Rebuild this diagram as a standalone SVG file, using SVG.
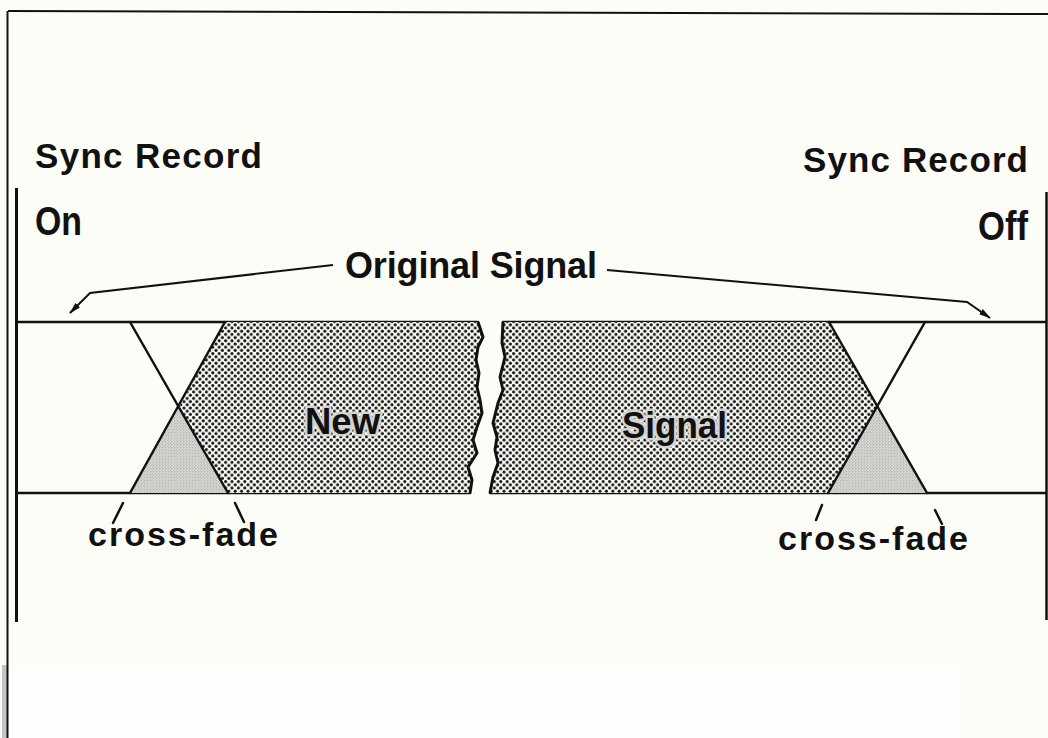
<svg xmlns="http://www.w3.org/2000/svg" width="1048" height="738" viewBox="0 0 1048 738">
<style>
.t{font-family:"Liberation Sans",Arial,Helvetica,sans-serif;font-weight:bold;fill:#111;}
.ln{stroke:#111;stroke-width:2.5;fill:none;stroke-linecap:round;stroke-linejoin:round;}
.thin{stroke:#111;stroke-width:2;fill:none;}
.halo{stroke:#d4d4d0;stroke-width:5;paint-order:stroke;stroke-linejoin:round;}
</style>
<defs>
<pattern id="dots" width="6.4" height="6.4" patternUnits="userSpaceOnUse">
<rect width="6.4" height="6.4" fill="#fdfdf8"/>
<circle cx="1.6" cy="1.6" r="1.55" fill="#111"/>
<circle cx="4.8" cy="4.8" r="1.55" fill="#111"/>
</pattern>
<pattern id="fine" width="3" height="3" patternUnits="userSpaceOnUse">
<rect width="3" height="3" fill="#d6d6d2"/>
<circle cx="0.8" cy="0.8" r="0.55" fill="#8a8a8a"/>
<circle cx="2.3" cy="2.2" r="0.45" fill="#a0a0a0"/>
</pattern>
<marker id="arr" viewBox="0 0 12 8" refX="11" refY="4" markerWidth="12" markerHeight="8" markerUnits="userSpaceOnUse" orient="auto">
<path d="M0,0.8 L12,4 L0,7.2 Z" fill="#111"/>
</marker>
</defs>

<rect width="1048" height="738" fill="#fdfdf7"/>
<rect x="9" y="665" width="950" height="73" fill="#fefefd"/>
<rect x="2" y="665" width="5" height="73" fill="#c4c4c4"/>

<g id="frame">
<path class="thin" d="M8,11 L1048,14"/>
<path class="thin" d="M7.5,11 L7.5,738"/>
<path d="M16.5,188 L16.5,622" stroke="#111" stroke-width="3" fill="none"/>
<path d="M1046.5,192 L1046.5,620" stroke="#111" stroke-width="2.5" fill="none"/>
</g>

<g id="band">
<path class="ln" d="M18,322 L478,322 M503,322 L1046,322"/>
<path class="ln" d="M18,493 L470,493 M490,493 L1046,493"/>
</g>

<g id="new-signal-left">
<polygon points="225,322 478,322 483,337 478,347 476,360 479,373 477,387 480,400 482,413 477,427 473,440 477,453 468,467 472,480 470,493 228,493 179,408" fill="url(#dots)"/>
<path d="M478,322 L483,337 L478,347 L476,360 L479,373 L477,387 L480,400 L482,413 L477,427 L473,440 L477,453 L468,467 L472,480 L470,493" stroke="#111" stroke-width="3" fill="none" stroke-linejoin="round"/>
<text class="t halo" x="305" y="434" font-size="37" textLength="75" lengthAdjust="spacingAndGlyphs">New</text>
</g>

<g id="new-signal-right">
<polygon points="503,322 829,322 877,408 828,493 490,493 493,477 498,463 495,450 497,437 493,423 498,403 503,390 500,377 505,357 502,343" fill="url(#dots)"/>
<path d="M503,322 L502,343 L505,357 L500,377 L503,390 L498,403 L493,423 L497,437 L495,450 L498,463 L493,477 L490,493" stroke="#111" stroke-width="3" fill="none" stroke-linejoin="round"/>
<text class="t halo" x="622" y="438" font-size="37" textLength="105" lengthAdjust="spacingAndGlyphs">Signal</text>
</g>

<g id="crossfade-left">
<polygon points="179,408 130,493 228,493" fill="url(#fine)"/>
<path class="ln" d="M130,322 L228,493 M225,322 L130,493"/>
</g>

<g id="crossfade-right">
<polygon points="877,408 828,493 927,493" fill="url(#fine)"/>
<path class="ln" d="M829,322 L927,493 M925,322 L828,493"/>
</g>

<g id="labels">
<text class="t" x="35" y="168" font-size="35" textLength="227" lengthAdjust="spacing">Sync Record</text>
<text class="t" x="35" y="235" font-size="40" textLength="47" lengthAdjust="spacingAndGlyphs">On</text>
<text class="t" x="803" y="172" font-size="35" textLength="225" lengthAdjust="spacing">Sync Record</text>
<text class="t" x="978" y="240" font-size="40" textLength="50" lengthAdjust="spacingAndGlyphs">Off</text>
<text class="t" x="345" y="278" font-size="36" textLength="252" lengthAdjust="spacing">Original Signal</text>
<text class="t" x="88" y="546" font-size="34" textLength="190" lengthAdjust="spacing">cross-fade</text>
<text class="t" x="778" y="550" font-size="34" textLength="190" lengthAdjust="spacing">cross-fade</text>
</g>

<g id="connectors">
<polyline class="thin" points="333,265 90,293 70,313" marker-end="url(#arr)"/>
<polyline class="thin" points="607,270 967,302 990,318" marker-end="url(#arr)"/>
<path class="ln" d="M123,503 L113,523 M235,503 L244,522"/>
<path class="ln" d="M822,505 L816,520 M935,510 L942,524"/>
</g>
</svg>
